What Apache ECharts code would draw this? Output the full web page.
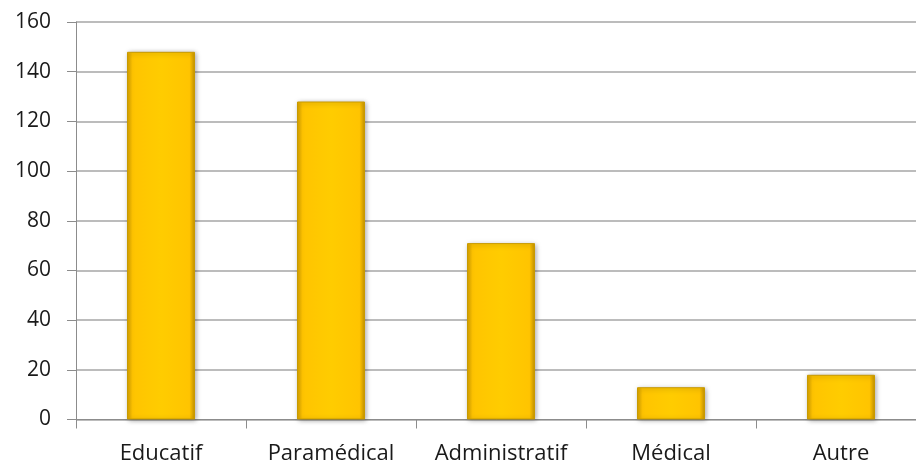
<!DOCTYPE html>
<html>
<head>
<meta charset="utf-8">
<script src="https://cdn.jsdelivr.net/npm/echarts@6/dist/echarts.min.js"></script>
<style>
  html, body { margin: 0; padding: 0; background: #ffffff; overflow: hidden; }
  #chart { width: 916px; height: 464px; }
</style>
</head>
<body>
<div id="chart"></div>
<script>
// Staff by category
const categories = ['Educatif', 'Paramédical', 'Administratif', 'Médical', 'Autre'];
const headcount = [148, 128, 71, 13, 18];
const yTicks = { min: 0, max: 160, interval: 20 };

const chart = echarts.init(document.getElementById('chart'));

// Golden bevelled bar fill: darker at the sides, bright in the middle
const barFill = new echarts.graphic.LinearGradient(0, 0, 1, 0, [
  { offset: 0, color: '#D9A300' },
  { offset: 0.08, color: '#FFC400' },
  { offset: 0.5, color: '#FFCC00' },
  { offset: 0.92, color: '#FFC400' },
  { offset: 1, color: '#C99600' }
]);

chart.setOption({
  animation: false,
  // plot area runs a little past the right edge of the canvas
  grid: {
    left: 76, width: 850, top: 22, bottom: 44.5,
    containLabel: false,
    outerBoundsMode: 'none'
  },
  xAxis: {
    type: 'category',
    data: categories,
    axisLine: { show: true, lineStyle: { color: '#8c8c8c', width: 1 } },
    axisTick: { show: true, length: 9, alignWithLabel: false, lineStyle: { color: '#8c8c8c' } },
    axisLabel: {
      interval: 0,
      hideOverlap: false,
      margin: 23,
      color: '#1a1a1a',
      fontFamily: 'Open Sans',
      fontSize: 22
    }
  },
  yAxis: {
    type: 'value',
    min: yTicks.min,
    max: yTicks.max,
    interval: yTicks.interval,
    axisLine: { show: true, lineStyle: { color: '#8c8c8c', width: 1 } },
    axisTick: { show: true, length: 9, lineStyle: { color: '#8c8c8c' } },
    splitLine: { show: true, lineStyle: { color: '#a6a6a6', width: 1.5 } },
    axisLabel: {
      margin: 25,
      color: '#1a1a1a',
      fontFamily: 'Open Sans',
      fontSize: 21
    }
  },
  series: [{
    type: 'bar',
    data: headcount,
    barWidth: 68,
    itemStyle: {
      color: barFill,
      borderColor: '#C89A00',
      borderWidth: 1,
      shadowBlur: 5,
      shadowColor: 'rgba(0,0,0,0.35)',
      shadowOffsetX: 1,
      shadowOffsetY: 1
    }
  }]
});
</script>
</body>
</html>
